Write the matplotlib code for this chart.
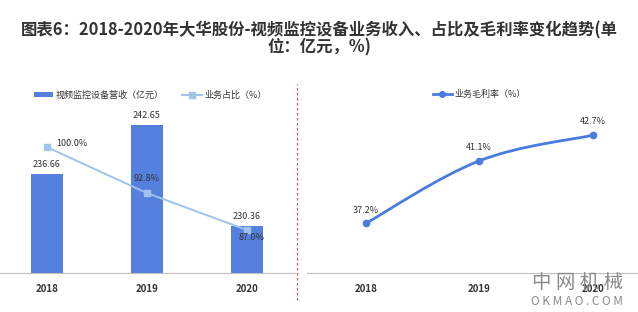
import numpy as np
import matplotlib.pyplot as plt
from matplotlib.path import Path
from matplotlib.patches import PathPatch
from matplotlib.lines import Line2D

plt.rcParams['font.family'] = ['Noto Sans CJK SC', 'DejaVu Sans']

# data
years = ['2018', '2019', '2020']
revenue = [236.66, 242.65, 230.36]      # 视频监控设备营收（亿元）
share = [100.0, 92.8, 87.0]             # 业务占比（%）
margin = [37.2, 41.1, 42.7]             # 业务毛利率（%）

bar_color = '#5580e0'
share_color = '#9fc3ea'
margin_color = '#4a7be0'
txt = '#333333'

fig = plt.figure(figsize=(6.38, 3.12), dpi=100)
fig.patch.set_facecolor('white')

fig.text(0.5, 0.903, '图表6：2018-2020年大华股份-视频监控设备业务收入、占比及毛利率变化趋势(单',
         ha='center', va='center', fontsize=11.8, fontweight='bold', color=txt)
fig.text(0.5, 0.848, '位：亿元，%)', ha='center', va='center', fontsize=11.8,
         fontweight='bold', color=txt)

x = np.arange(len(years))

# left panel
ax1 = fig.add_axes([0.0, 0.125, 0.462, 0.5545])
ax1.bar(x, revenue, width=0.32, color=bar_color, label='视频监控设备营收（亿元）')
ax1.set_xlim(-0.47, 2.48)
ax1.set_ylim(224.6, 245.7)
for i, v in enumerate(revenue):
    ax1.text(x[i], v + 0.6, f'{v:.2f}', ha='center', va='bottom', fontsize=6.5, color=txt)

ax2 = ax1.twinx()
ax2.plot(x, share, color=share_color, marker='s', markersize=5, lw=1.4,
         label='业务占比（%）')
ax2.set_ylim(80.25, 107.4)
ax2.text(x[0] + 0.09, share[0] - 0.2, f'{share[0]:.1f}%', ha='left', va='bottom', fontsize=6.5, color=txt)
ax2.text(x[1], share[1] + 1.6, f'{share[1]:.1f}%', ha='center', va='bottom', fontsize=6.5, color=txt)
ax2.text(x[2] + 0.05, share[2] - 0.5, f'{share[2]:.1f}%', ha='center', va='top', fontsize=6.5, color=txt)

for a in (ax1, ax2):
    for s in ['top', 'right', 'left']:
        a.spines[s].set_visible(False)
    a.set_yticks([])
ax1.spines['bottom'].set_color('#bfbfbf')
ax2.spines['bottom'].set_visible(False)
ax1.set_xticks(x)
ax1.set_xticklabels(years, fontsize=7, fontweight='bold', color=txt)
ax1.tick_params(axis='x', length=0, pad=8)

h1, l1 = ax1.get_legend_handles_labels()
h2, l2 = ax2.get_legend_handles_labels()
ax1.legend(h1 + h2, l1 + l2, loc='center', bbox_to_anchor=(0.51, 1.03), ncol=2,
           frameon=False, fontsize=6.5, handlelength=2.2, handleheight=0.5,
           columnspacing=2.0, handletextpad=0.3, labelcolor=txt)

# right panel
ax3 = fig.add_axes([0.481, 0.125, 0.519, 0.5545])
ax3.set_xlim(-0.52, 2.40)
ax3.set_ylim(34.1, 44.9)
# smooth curve through the points (cubic Bezier segments)
verts = [(x[0], margin[0])]
codes = [Path.MOVETO]
t = 0.18
for i in range(len(x) - 1):
    p0 = (x[max(i - 1, 0)], margin[max(i - 1, 0)])
    p1 = (x[i], margin[i])
    p2 = (x[i + 1], margin[i + 1])
    p3 = (x[min(i + 2, len(x) - 1)], margin[min(i + 2, len(x) - 1)])
    c1 = (p1[0] + (p2[0] - p0[0]) * t, p1[1] + (p2[1] - p0[1]) * t)
    c2 = (p2[0] - (p3[0] - p1[0]) * t, p2[1] - (p3[1] - p1[1]) * t)
    verts += [c1, c2, p2]
    codes += [Path.CURVE4] * 3
ax3.add_patch(PathPatch(Path(verts, codes), fill=False, edgecolor=margin_color, lw=2))
ax3.plot(x, margin, linestyle='none', marker='o', markersize=4.5, color=margin_color)
for i, v in enumerate(margin):
    ax3.text(x[i], v + 0.55, f'{v:.1f}%', ha='center', va='bottom', fontsize=6.5, color=txt)
for s in ['top', 'right', 'left']:
    ax3.spines[s].set_visible(False)
ax3.spines['bottom'].set_color('#bfbfbf')
ax3.set_yticks([])
ax3.set_xticks(x)
ax3.set_xticklabels(years, fontsize=7, fontweight='bold', color=txt)
ax3.tick_params(axis='x', length=0, pad=8)
ax3.legend([Line2D([], [], color=margin_color, marker='o', markersize=4, lw=2)],
           ['业务毛利率（%）'], loc='center', bbox_to_anchor=(0.52, 1.03),
           frameon=False, fontsize=6.5, handlelength=2.2, handletextpad=0.2, labelcolor=txt)

# red dotted divider
fig.add_artist(Line2D([0.465, 0.465], [0.04, 0.73], transform=fig.transFigure,
                      color='#e05050', lw=0.9, linestyle=(0, (2, 2))))

# site mark
fig.text(0.905, 0.095, '中 网 机 械', ha='center', va='center', fontsize=14, color='#8a8a8a')
fig.text(0.905, 0.035, 'O K M A O . C O M', ha='center', va='center', fontsize=8.5, color='#8a8a8a')

plt.savefig('out.png', dpi=100)
